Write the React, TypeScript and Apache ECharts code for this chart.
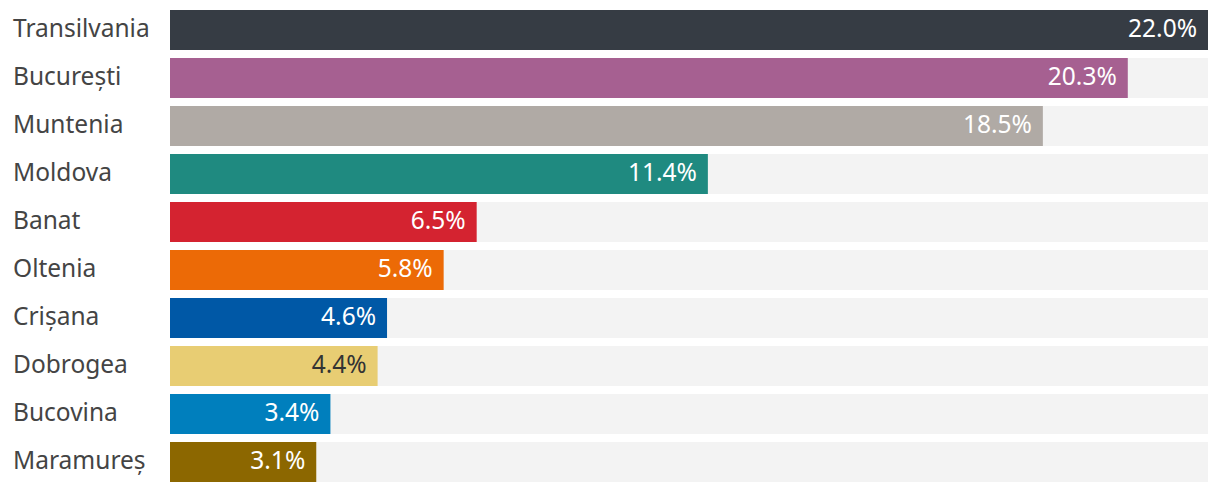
import React, { useEffect, useRef } from "react";
import * as echarts from "echarts";

const categories = ["Transilvania", "București", "Muntenia", "Moldova", "Banat", "Oltenia", "Crișana", "Dobrogea", "Bucovina", "Maramureș"];
const values = [22.0, 20.3, 18.5, 11.4, 6.5, 5.8, 4.6, 4.4, 3.4, 3.1];
const colors = ["#363c44", "#a66091", "#b0aaa5", "#1f8a80", "#d42330", "#ec6a06", "#0058a6", "#e8cd73", "#007fbd", "#8c6700"];
const labelColors = ["#fff", "#fff", "#fff", "#fff", "#fff", "#fff", "#fff", "#333", "#fff", "#fff"];

export default function App() {
  const ref = useRef<HTMLDivElement>(null);
  useEffect(() => {
    document.body.style.margin = "0";
    const chart = echarts.init(ref.current!, null, { renderer: "svg" });
    chart.setOption({
      animation: false,
      grid: { left: 170, right: 12, top: 6, bottom: 6 },
      xAxis: { type: "value", min: 0, max: 22, show: false },
      yAxis: {
        type: "category",
        data: categories,
        inverse: true,
        axisLine: { show: false },
        axisTick: { show: false },
        axisLabel: {
          align: "left",
          margin: 157,
          formatter: (v: string) => "{a|" + v + "}",
          rich: {
            a: {
              fontSize: 24.5,
              color: "#444",
              fontFamily: "Noto Sans",
              padding: [0, 0, 6, 0],
            },
          },
        },
      },
      series: [
        {
          type: "bar",
          barWidth: 40,
          showBackground: true,
          backgroundStyle: { color: "#f3f3f3" },
          data: values.map((v, i) => ({
            value: v,
            itemStyle: { color: colors[i] },
            label: { color: labelColors[i] },
          })),
          label: {
            show: true,
            position: "insideRight",
            distance: 11,
            offset: [0, -3],
            fontSize: 24.5,
            fontFamily: "Noto Sans",
            formatter: (p: any) => p.value.toFixed(1) + "%",
          },
        },
      ],
    });
    return () => chart.dispose();
  }, []);
  return <div ref={ref} style={{ width: 1220, height: 492 }} />;
}
